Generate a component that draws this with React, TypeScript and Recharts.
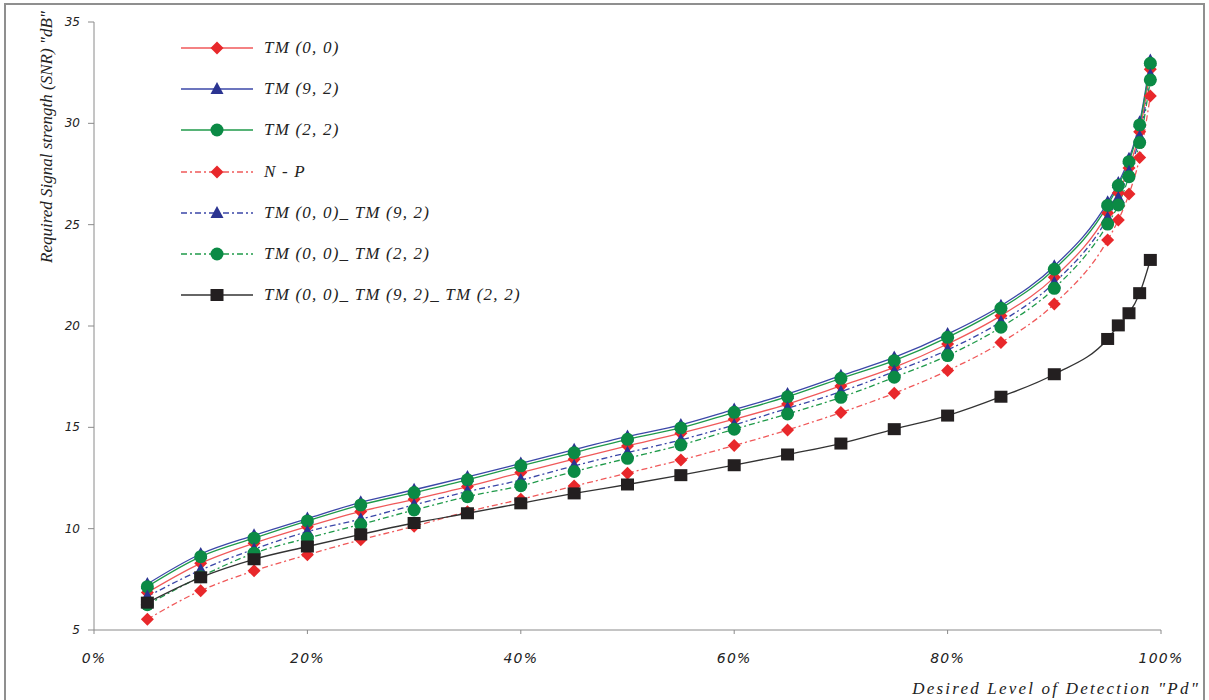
import React from "react"
import { LineChart, Line, XAxis, YAxis } from "recharts"

const pd = [5, 10, 15, 20, 25, 30, 35, 40, 45, 50, 55, 60, 65, 70, 75, 80, 85, 90, 95, 96, 97, 98, 99]

const tm00 = [6.85, 8.29, 9.28, 10.1, 10.85, 11.45, 12.08, 12.77, 13.43, 14.08, 14.71, 15.4, 16.15, 17.04, 17.96, 19.11, 20.51, 22.4, 25.57, 26.56, 27.8, 29.59, 32.67]
const tm92 = [7.27, 8.75, 9.67, 10.5, 11.3, 11.92, 12.55, 13.22, 13.9, 14.55, 15.12, 15.88, 16.65, 17.55, 18.45, 19.6, 21.0, 22.95, 26.1, 27.05, 28.25, 30.05, 33.1]
const tm22 = [7.14, 8.62, 9.53, 10.38, 11.17, 11.78, 12.41, 13.1, 13.75, 14.41, 14.97, 15.74, 16.51, 17.42, 18.29, 19.44, 20.87, 22.8, 25.95, 26.93, 28.11, 29.92, 32.96]
const np = [5.53, 6.94, 7.92, 8.71, 9.45, 10.12, 10.84, 11.45, 12.1, 12.74, 13.39, 14.1, 14.87, 15.73, 16.68, 17.8, 19.18, 21.09, 24.24, 25.23, 26.51, 28.31, 31.35]
const tm00_92 = [6.65, 7.96, 8.99, 9.85, 10.47, 11.17, 11.83, 12.4, 13.1, 13.75, 14.38, 15.12, 15.94, 16.76, 17.75, 18.82, 20.21, 22.14, 25.33, 26.32, 27.61, 29.34, 32.39]
const tm00_22 = [6.25, 7.63, 8.79, 9.53, 10.21, 10.92, 11.58, 12.12, 12.82, 13.47, 14.13, 14.91, 15.66, 16.48, 17.47, 18.54, 19.94, 21.86, 25.03, 25.97, 27.37, 29.05, 32.14]
const tm_all = [6.35, 7.6, 8.49, 9.12, 9.72, 10.28, 10.76, 11.25, 11.74, 12.18, 12.64, 13.13, 13.66, 14.2, 14.91, 15.58, 16.51, 17.62, 19.36, 20.03, 20.63, 21.62, 23.26]

const xTicks = [0, 20, 40, 60, 80, 100]
const yTicks = [5, 10, 15, 20, 25, 30, 35]

const series = [
  { key: "tm00", name: "TM (0, 0)", values: tm00, line: "#f0595a", fill: "#e8282b", dash: undefined, shape: "diamond" },
  { key: "tm92", name: "TM (9, 2)", values: tm92, line: "#3b47a8", fill: "#2b3491", dash: undefined, shape: "triangle" },
  { key: "tm22", name: "TM (2, 2)", values: tm22, line: "#1f9a4a", fill: "#0b8a45", dash: undefined, shape: "circle" },
  { key: "np", name: "N - P", values: np, line: "#f0595a", fill: "#e8282b", dash: "6 3 2 3", shape: "diamond" },
  { key: "tm00_92", name: "TM (0, 0)_ TM (9, 2)", values: tm00_92, line: "#3b47a8", fill: "#2b3491", dash: "6 3 2 3", shape: "triangle" },
  { key: "tm00_22", name: "TM (0, 0)_ TM (2, 2)", values: tm00_22, line: "#1f9a4a", fill: "#0b8a45", dash: "6 3 2 3", shape: "circle" },
  { key: "tm_all", name: "TM (0, 0)_ TM (9, 2)_ TM (2, 2)", values: tm_all, line: "#333333", fill: "#231f20", dash: undefined, shape: "square" },
]

const data = pd.map((p, i) => {
  const row: Record<string, number> = { pd: p }
  series.forEach((s) => (row[s.key] = s.values[i]))
  return row
})

function Marker({ shape, cx, cy, color }: { shape: string; cx: number; cy: number; color: string }) {
  if (cx == null || cy == null) return null
  if (shape === "diamond")
    return <polygon points={`${cx},${cy - 6.5} ${cx + 6.5},${cy} ${cx},${cy + 6.5} ${cx - 6.5},${cy}`} fill={color} />
  if (shape === "triangle")
    return <polygon points={`${cx},${cy - 7} ${cx + 6.5},${cy + 5} ${cx - 6.5},${cy + 5}`} fill={color} />
  if (shape === "circle") return <circle cx={cx} cy={cy} r={6.5} fill={color} />
  return <rect x={cx - 6.5} y={cy - 6} width={13} height={12} fill={color} />
}

// Times-like italic for titles and legend, wide italic for ticks
const serif = '"Liberation Serif", "DejaVu Serif", serif'
const sans = '"DejaVu Sans", Verdana, sans-serif'

function XTick({ x, y, payload }: any) {
  return (
    <text x={x} y={y} dy={27} textAnchor="middle" fontFamily={sans} fontStyle="italic" fontSize={14} letterSpacing={1.2} fill="#222">
      {payload.value}%
    </text>
  )
}

function YTick({ x, y, payload }: any) {
  return (
    <text x={x} y={y} dx={-6} dy={4} textAnchor="end" fontFamily={sans} fontStyle="italic" fontSize={12} fill="#222">
      {payload.value}
    </text>
  )
}

function LegendBox() {
  return (
    <div style={{ position: "absolute", left: 180, top: 27 }}>
      {series.map((s) => (
        <div key={s.key} style={{ display: "flex", alignItems: "center", height: 41.3 }}>
          <svg width={74} height={16}>
            <line x1={1} y1={8} x2={73} y2={8} stroke={s.line} strokeWidth={1.3} strokeDasharray={s.dash} />
            <Marker shape={s.shape} cx={37} cy={8} color={s.fill} />
          </svg>
          <span style={{ marginLeft: 10, fontFamily: serif, fontStyle: "italic", fontSize: 17, letterSpacing: 1.2, color: "#222", whiteSpace: "nowrap" }}>
            {s.name}
          </span>
        </div>
      ))}
    </div>
  )
}

export default function App() {
  return (
    <div style={{ position: "absolute", left: 0, top: 0, width: 1209, height: 700, background: "#fff", overflow: "hidden" }}>
      <div style={{ position: "absolute", left: 4, top: 3, width: 1197, height: 720, border: "2px solid #8f8f8f" }} />
      <div style={{ position: "absolute", left: 0, top: 0 }}>
        <LineChart width={1209} height={700} data={data} margin={{ top: 22, right: 48, bottom: 0, left: 0 }}>
          <XAxis
            dataKey="pd"
            type="number"
            domain={[0, 100]}
            ticks={xTicks}
            height={70}
            stroke="#8a8a8a"
            tickSize={4}
            tickMargin={2}
            tick={<XTick />}
            label={{
              value: 'Desired Level of Detection "Pd"',
              content: (p: any) => (
                <text
                  x={p.viewBox.x + p.viewBox.width + 39}
                  y={p.viewBox.y + 64}
                  textAnchor="end"
                  fontFamily={serif}
                  fontStyle="italic"
                  fontSize={17}
                  letterSpacing={2.2}
                  fill="#222"
                >
                  Desired Level of Detection "Pd"
                </text>
              ),
            }}
          />
          <YAxis
            type="number"
            domain={[5, 35]}
            ticks={yTicks}
            width={94}
            stroke="#8a8a8a"
            tickSize={6}
            tickMargin={2}
            tick={<YTick />}
            label={{
              value: 'Required Signal strength (SNR) "dB"',
              content: (p: any) => {
                const cx = 46
                const cy = p.viewBox.y + 115
                return (
                  <text
                    x={cx}
                    y={cy}
                    transform={`rotate(-90, ${cx}, ${cy})`}
                    textAnchor="middle"
                    dominantBaseline="central"
                    fontFamily={serif}
                    fontStyle="italic"
                    fontSize={17}
                    fill="#222"
                  >
                    Required Signal strength (SNR) "dB"
                  </text>
                )
              },
            }}
          />
          {series.map((s) => (
            <Line
              key={s.key}
              dataKey={s.key}
              name={s.name}
              type="monotone"
              stroke={s.line}
              strokeWidth={1.3}
              strokeDasharray={s.dash}
              isAnimationActive={false}
              activeDot={false}
              dot={(p: any) => <Marker key={`${s.key}-${p.index}`} shape={s.shape} cx={p.cx} cy={p.cy} color={s.fill} />}
            />
          ))}
        </LineChart>
      </div>
      <LegendBox />
    </div>
  )
}
